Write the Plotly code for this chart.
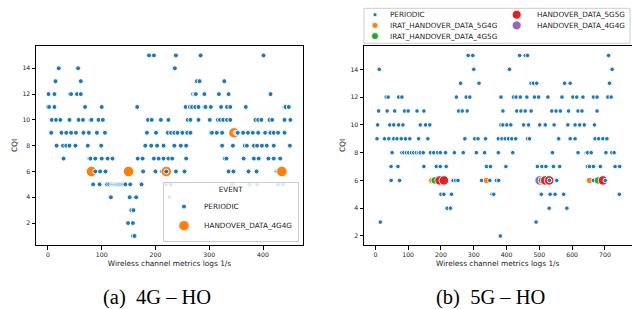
import plotly.graph_objects as go

W, H = 632, 309

# ---------------- (a) 4G - HO : PERIODIC samples (time in s) per CQI level
a_cqi15 = [188, 197, 238, 284, 401]
a_cqi14 = [20, 56, 236]
a_cqi13 = [14, 61, 277, 282, 328]
a_cqi12 = [1, 12, 41, 43, 54, 61, 270, 273, 275, 291, 318, 336, 414]
a_cqi11 = [0, 2, 12, 69, 100, 166, 256, 264, 268, 274, 280, 291, 293, 303, 322, 333, 339, 368, 440, 442, 448]
a_cqi10 = [7, 15, 23, 40, 57, 65, 79, 81, 94, 102, 186, 193, 210, 224, 260, 265, 280, 301, 316, 320, 326, 333,
           339, 386, 391, 397, 412, 417, 440, 451]
a_cqi9 = [6, 25, 34, 43, 52, 66, 76, 91, 106, 184, 201, 223, 229, 235, 241, 250, 259, 265, 303, 305, 314, 324,
          349, 351, 353, 363, 372, 381, 391, 404, 412, 414, 420, 428, 440]
a_cqi8 = [16, 28, 34, 40, 51, 74, 99, 181, 192, 203, 215, 235, 247, 257, 324, 344, 366, 370, 383, 389, 398, 407,
          420, 450]
a_cqi7 = [29, 77, 79, 88, 100, 111, 120, 167, 176, 197, 206, 215, 224, 231, 257, 329, 332, 364, 383, 392, 410,
          420, 432]
a_cqi6 = [88, 97, 107, 177, 200, 212, 220, 238, 254, 336, 345, 373, 388, 425, 427]
a_cqi5 = [84, 96, 110, 114, 118, 120, 122, 124, 126, 128, 130, 132, 134, 136, 138, 140, 142, 144, 153, 174, 220,
          228, 343, 375, 389, 428, 437]
a_cqi4 = [117, 152, 164, 226]
a_cqi3 = [155, 159]
a_cqi2 = [149, 158]
a_cqi1 = [158, 161]
a_periodic = {15: a_cqi15, 14: a_cqi14, 13: a_cqi13, 12: a_cqi12, 11: a_cqi11, 10: a_cqi10, 9: a_cqi9,
              8: a_cqi8, 7: a_cqi7, 6: a_cqi6, 5: a_cqi5, 4: a_cqi4, 3: a_cqi3, 2: a_cqi2, 1: a_cqi1}
a_ho_4g4g_t = [81, 150, 220, 346, 435]
a_ho_4g4g_cqi = [6, 6, 6, 9, 6]

# ---------------- (b) 5G - HO : PERIODIC samples (time in s) per CQI level
b_cqi15 = [283, 297, 440, 457, 464, 711]
b_cqi14 = [12, 300, 409, 722]
b_cqi13 = [260, 316, 475, 482, 492, 577, 594, 714]
b_cqi12 = [33, 39, 71, 81, 247, 277, 288, 383, 421, 429, 442, 462, 485, 498, 526, 569, 602, 614, 633, 665, 676,
           709, 719]
b_cqi11 = [10, 36, 59, 89, 100, 127, 148, 254, 265, 280, 389, 431, 444, 457, 475, 538, 551, 564, 589, 618, 630, 676]
b_cqi10 = [7, 44, 56, 71, 84, 137, 153, 166, 383, 389, 401, 413, 452, 467, 501, 518, 545, 587, 609, 623, 637, 668]
b_cqi9 = [5, 28, 41, 56, 66, 79, 92, 105, 132, 160, 273, 303, 313, 336, 375, 386, 396, 406, 416, 428, 464, 470,
          559, 594, 609, 670, 681, 694, 706]
b_cqi8 = [51, 81, 87, 95, 102, 110, 117, 125, 132, 137, 146, 168, 178, 190, 198, 214, 241, 268, 308, 333, 375,
          419, 540, 618, 643, 647, 658, 703, 721, 728]
b_cqi7 = [48, 69, 148, 186, 198, 216, 339, 351, 398, 494, 508, 520, 543, 562, 647, 653, 665, 686, 731, 745]
b_cqi6 = [48, 74, 237, 245, 252, 324, 349, 369, 376, 531, 553, 665, 701]
b_cqi5 = [200, 209, 232, 356, 361, 506, 533, 548, 574, 744]
b_cqi4 = [219, 229, 530, 584]
b_cqi3 = [15, 490]
b_cqi2 = [381]
b_periodic = {15: b_cqi15, 14: b_cqi14, 13: b_cqi13, 12: b_cqi12, 11: b_cqi11, 10: b_cqi10, 9: b_cqi9,
              8: b_cqi8, 7: b_cqi7, 6: b_cqi6, 5: b_cqi5, 4: b_cqi4, 3: b_cqi3, 2: b_cqi2}
b_ho_5g4g_t = [172, 339, 653]
b_ho_5g4g_cqi = [6, 6, 6]
b_ho_4g5g_t = [181, 508, 679]
b_ho_4g5g_cqi = [6, 6, 6]
b_ho_5g5g_t = [196, 209, 518, 530, 694]
b_ho_5g5g_cqi = [6, 6, 6, 6, 6]
b_ho_4g4g_t = [501]
b_ho_4g4g_cqi = [6]

# ---------------- styles
BLUE, ORANGE, GREEN, RED, PURPLE = "#1f77b4", "#ff7f0e", "#2ca02c", "#d62728", "#9467bd"
a_style = {"PERIODIC": (BLUE, 4.9), "HANDOVER_DATA_4G4G": (ORANGE, 10.5)}
b_style = {"PERIODIC": (BLUE, 4.5), "IRAT_HANDOVER_DATA_5G4G": (ORANGE, 6.5),
           "IRAT_HANDOVER_DATA_4G5G": (GREEN, 7.5), "HANDOVER_DATA_5G5G": (RED, 9.5),
           "HANDOVER_DATA_4G4G": (PURPLE, 9.5)}
b_legend_diam = {"PERIODIC": 4, "IRAT_HANDOVER_DATA_5G4G": 6, "IRAT_HANDOVER_DATA_4G5G": 7,
                 "HANDOVER_DATA_5G5G": 9, "HANDOVER_DATA_4G4G": 9}


def build_rows(periodic, handovers):
    rows = []
    for ev, ts, cs in handovers:
        for t, c in zip(ts, cs):
            rows.append((t, 0, c, ev))
    for c, ts in periodic.items():
        for t in ts:
            rows.append((t, 1, c, "PERIODIC"))
    rows.sort(key=lambda r: (r[0], r[1]))
    return rows


a_rows = build_rows(a_periodic, [("HANDOVER_DATA_4G4G", a_ho_4g4g_t, a_ho_4g4g_cqi)])
b_rows = build_rows(b_periodic, [("IRAT_HANDOVER_DATA_5G4G", b_ho_5g4g_t, b_ho_5g4g_cqi),
                                 ("IRAT_HANDOVER_DATA_4G5G", b_ho_4g5g_t, b_ho_4g5g_cqi),
                                 ("HANDOVER_DATA_5G5G", b_ho_5g5g_t, b_ho_5g5g_cqi),
                                 ("HANDOVER_DATA_4G4G", b_ho_4g4g_t, b_ho_4g4g_cqi)])

FONT = "DejaVu Sans"
fig = go.Figure()


def add_scatter(rows, style, xa, ya):
    fig.add_trace(go.Scatter(
        x=[r[0] for r in rows], y=[r[2] for r in rows], mode="markers",
        text=[r[3] for r in rows], hovertemplate="%{text}<br>t=%{x}<br>CQI=%{y}<extra></extra>",
        marker=dict(color=[style[r[3]][0] for r in rows], size=[style[r[3]][1] for r in rows],
                    line=dict(color="white", width=0.9), opacity=1),
        showlegend=False, xaxis=xa, yaxis=ya))


add_scatter(a_rows, a_style, "x", "y")
add_scatter(b_rows, b_style, "x2", "y2")

# legend-only traces for panel (a)
for name, (col, sz) in a_style.items():
    fig.add_trace(go.Scatter(x=[None], y=[None], mode="markers", name=name,
                             marker=dict(color=col, size=sz, line=dict(color="white", width=0.9)),
                             xaxis="x", yaxis="y", legend="legend"))

px = lambda v: v / W
py = lambda v: 1 - v / H

axis_common = dict(showline=True, mirror=True, linecolor="black", linewidth=1, ticks="outside",
                   ticklen=3.5, tickwidth=1, tickcolor="black", showgrid=False, zeroline=False,
                   tickfont=dict(family=FONT, size=6.2, color="#222"),
                   title_font=dict(family=FONT, size=7.4, color="#222"))

ydom = [py(245), py(46)]
fig.update_layout(
    width=W, height=H, margin=dict(l=0, r=0, t=0, b=0),
    paper_bgcolor="white", plot_bgcolor="white",
    xaxis=dict(axis_common, domain=[px(36), px(303)], range=[-22.3, 474.4], tickvals=[0, 100, 200, 300, 400],
               title=dict(text="Wireless channel metrics logs 1/s", standoff=3), anchor="y"),
    yaxis=dict(axis_common, domain=ydom, range=[0.3, 15.73], tickvals=[2, 4, 6, 8, 10, 12, 14],
               title=dict(text="CQI", standoff=3), anchor="x"),
    xaxis2=dict(axis_common, domain=[px(364), px(631.5)], range=[-34.6, 781],
                tickvals=[0, 100, 200, 300, 400, 500, 600, 700],
                title=dict(text="Wireless channel metrics logs 1/s", standoff=3), anchor="y2"),
    yaxis2=dict(axis_common, domain=ydom, range=[1.35, 15.68], tickvals=[2, 4, 6, 8, 10, 12, 14],
                title=dict(text="CQI", standoff=3), anchor="x2"),
    legend=dict(x=px(299), xanchor="right", y=py(241.7), yanchor="bottom",
                bgcolor="rgba(255,255,255,0.85)", bordercolor="#cccccc", borderwidth=1,
                font=dict(family=FONT, size=7.25, color="#222"),
                title=dict(text="EVENT", side="top center", font=dict(family=FONT, size=7.25, color="#222")),
                itemsizing="trace", tracegroupgap=0),
    hovermode="closest",
)

# ---- panel (b) legend box: pixel-sized symbol circles + text labels
fig.add_shape(type="rect", xref="paper", yref="paper", x0=px(364), x1=px(630), y0=py(43.3), y1=py(8.3),
              line=dict(color="#cccccc", width=1), fillcolor="white", layer="above")
for i, name in enumerate(b_style):
    col_i = 0 if i < 3 else 1
    row_i = i if i < 3 else i - 3
    sx = [375, 516.7][col_i]
    tx = [388, 535][col_i]
    yy = 14.7 + row_i * 10.7
    r = b_legend_diam[name] / 2
    fig.add_shape(type="circle", xref="paper", yref="paper", xsizemode="pixel", ysizemode="pixel",
                  xanchor=px(sx), yanchor=py(yy), x0=-r, x1=r, y0=-r, y1=r,
                  fillcolor=b_style[name][0], line=dict(color="white", width=0.8), layer="above")
    fig.add_annotation(x=px(tx), y=py(yy), xref="paper", yref="paper", text=name, showarrow=False,
                       xanchor="left", yanchor="middle", font=dict(family=FONT, size=7.25, color="#222"))

# ---- captions
fig.add_annotation(x=px(157), y=py(297), xref="paper", yref="paper", text="(a)\u00a0\u00a04G \u2013 HO",
                   showarrow=False, xanchor="center", yanchor="middle",
                   font=dict(family="Liberation Serif", size=20.5, color="black"))
fig.add_annotation(x=px(490.5), y=py(297), xref="paper", yref="paper", text="(b)\u00a0\u00a05G \u2013 HO",
                   showarrow=False, xanchor="center", yanchor="middle",
                   font=dict(family="Liberation Serif", size=20.5, color="black"))

fig.write_html("out.html", config={"displayModeBar": False},
               post_script="document.body.style.margin='0px';document.body.style.overflow='hidden';")
